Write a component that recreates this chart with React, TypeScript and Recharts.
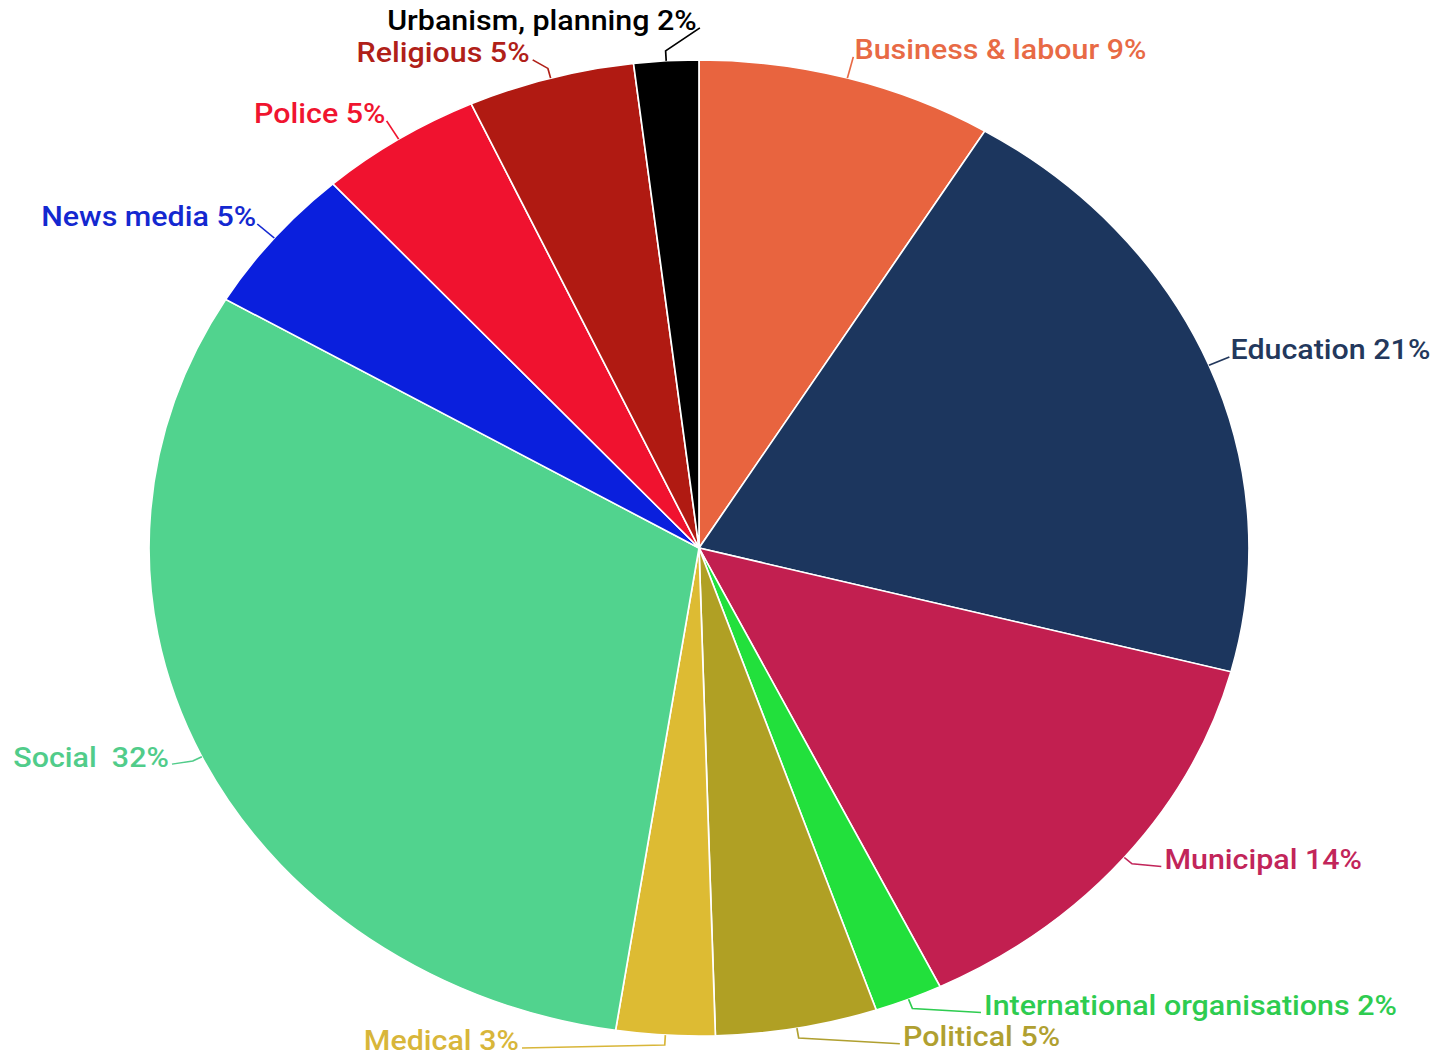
import { PieChart, Pie, Cell } from 'recharts'

const categories = [
  'Business & labour', 'Education', 'Municipal', 'International organisations', 'Political',
  'Medical', 'Social ', 'News media', 'Police', 'Religious', 'Urbanism, planning',
]
const shares = [8.7, 20.4, 13.7, 2.0, 4.75, 2.9, 31.1, 4.9, 4.8, 4.9, 1.9]
const pctLabels = ['9%', '21%', '14%', '2%', '5%', '3%', '32%', '5%', '5%', '5%', '2%']

const colors = [
  '#E8643F', '#1C365E', '#C21F50', '#22E03C', '#B0A024',
  '#DDBB33', '#51D38E', '#0A1FDD', '#F0122F', '#B01A12', '#000000',
]
const textColors = [
  '#E86A45', '#23385C', '#C2255A', '#2ECC50', '#B0A030',
  '#D8B63A', '#51CC8A', '#1428D0', '#F0142F', '#B02018', '#000000',
]

// the pie is drawn as a circle and stretched sideways into an ellipse (text too, like the source)
const SX = 550 / 488
const W = 1455
const H = 1059

// extra label shifts where the labels crowd together
const labelNudge: Record<number, [number, number]> = {
  2: [22, -5],
  3: [66, -7],
  4: [101, -6],
  5: [-144, -9],
  6: [-12, -2],
  9: [-14, 3],
  10: [33, -11],
}

const data = categories.map((name, i) => ({ name, value: shares[i] }))

function renderLabel(p: any) {
  const i = p.index
  const rad = Math.PI / 180
  const c = Math.cos(-p.midAngle * rad)
  const s = Math.sin(-p.midAngle * rad)
  const ex = (p.cx + p.outerRadius * c) * SX
  const ey = p.cy + p.outerRadius * s
  const nudge = labelNudge[i]
  const [nx, ny] = nudge ?? [0, 0]
  const ax = ex + 22 * c + nx
  const ay = ey + 22 * s + ny
  const right = c >= 0
  const pts = nudge
    ? [[ex, ey], [ex + 10 * c, ey + 10 * s], [ax + (right ? -2 : 2), ay]]
    : [[ex, ey], [ax, ay]]
  return (
    <g key={`lbl-${i}`}>
      <polyline
        points={pts.map(([x, y]) => `${x / SX},${y}`).join(' ')}
        fill="none"
        stroke={textColors[i]}
        strokeWidth={1.5}
      />
      <text
        x={ax / SX + (right ? 1 : -1)}
        y={ay - 7}
        textAnchor={right ? 'start' : 'end'}
        dominantBaseline="central"
        fill={textColors[i]}
        fontSize={27}
        fontWeight={500}
        fontFamily="Roboto, 'Noto Sans', sans-serif"
        style={{ whiteSpace: 'pre' }}
      >
        {`${categories[i]} ${pctLabels[i]}`}
      </text>
    </g>
  )
}

export default function App() {
  return (
    <div style={{ position: 'absolute', left: 0, top: 0, width: W, height: H, background: '#fff', overflow: 'hidden' }}>
      <div style={{ transform: `scaleX(${SX})`, transformOrigin: '0 0', width: W / SX, height: H }}>
        <PieChart width={Math.round(W / SX)} height={H} margin={{ top: 0, right: 0, bottom: 0, left: 0 }}>
          <Pie
            data={data}
            dataKey="value"
            nameKey="name"
            cx={699 / SX}
            cy={548}
            outerRadius={488}
            startAngle={90}
            endAngle={-270}
            stroke="#fff"
            strokeWidth={1.5}
            label={renderLabel}
            labelLine={false}
            isAnimationActive={false}
          >
            {data.map((d, i) => (
              <Cell key={d.name} fill={colors[i]} />
            ))}
          </Pie>
        </PieChart>
      </div>
    </div>
  )
}
